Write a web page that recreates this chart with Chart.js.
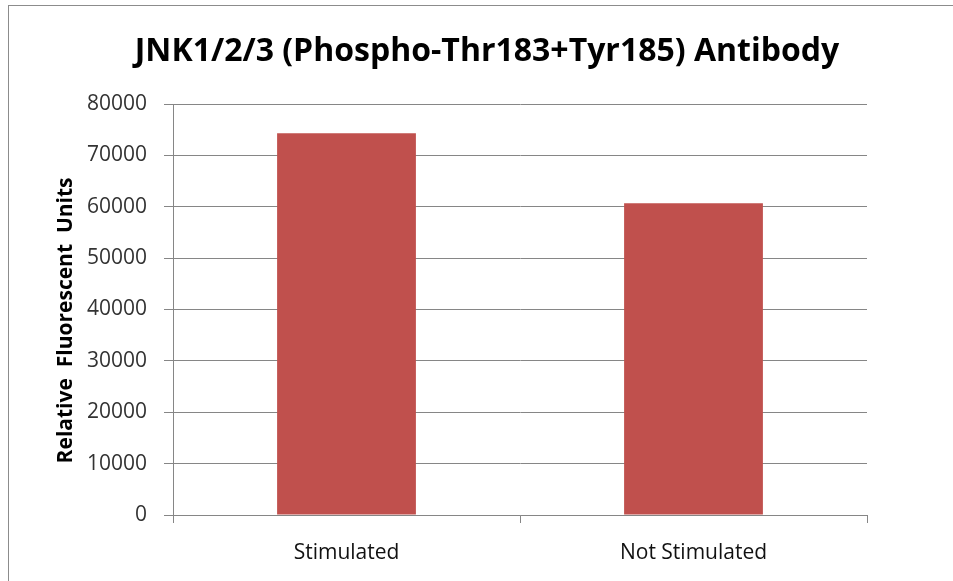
<!DOCTYPE html>
<html>
<head>
<meta charset="utf-8">
<script src="https://cdn.jsdelivr.net/npm/chart.js@4/dist/chart.umd.min.js"></script>
<style>
  html, body { margin: 0; padding: 0; background: #fff; }
  #wrap { position: relative; width: 953px; height: 581px; overflow: hidden; }
  #frame { position: absolute; left: 8px; top: 5px; width: 960px; height: 600px; border: 1px solid #8c8c8c; }
  canvas { position: absolute; left: 0; top: 0; }
</style>
</head>
<body>
<div id="wrap">
  <div id="frame"></div>
  <canvas id="barChart" width="953" height="581"></canvas>
</div>
<script>
// chart values
const categories = ['Stimulated', 'Not Stimulated'];
const fluorescence = [74300, 60700];
const yTicks = [0, 10000, 20000, 30000, 40000, 50000, 60000, 70000, 80000];
const chartTitle = 'JNK1/2/3 (Phospho-Thr183+Tyr185) Antibody';

const gridColor = '#868686';
const fontFamily = '"Open Sans", "DejaVu Sans", sans-serif';

// title is not centred on the plot in the original, so draw it at its own x
const titlePlugin = {
    id: 'offsetTitle',
    afterDraw(chart) {
        const c = chart.ctx;
        c.save();
        c.fillStyle = '#000';
        c.font = 'bold 32px ' + fontFamily;
        c.textAlign = 'center';
        c.textBaseline = 'alphabetic';
        c.fillText(chartTitle, 487, 61);
        c.restore();
    }
};

const ctx = document.getElementById('barChart').getContext('2d');
const barChart = new Chart(ctx, {
    type: 'bar',
    data: {
        labels: categories,
        datasets: [{
            label: 'Relative Fluorescent Units',
            data: fluorescence,
            backgroundColor: '#C0504D',
            borderWidth: 0,
            categoryPercentage: 0.8,
            barPercentage: 0.5
        }]
    },
    options: {
        responsive: false,
        animation: false,
        layout: {
            padding: { left: 40, right: 86, top: 104, bottom: 0 }
        },
        plugins: {
            legend: { display: false },
            tooltip: { enabled: false },
            title: { display: false }
        },
        scales: {
            x: {
                offset: true,
                grid: {
                    display: true,
                    drawOnChartArea: false,
                    drawTicks: true,
                    tickLength: 8,
                    color: gridColor,
                    offset: true
                },
                border: { display: true, color: gridColor, width: 1 },
                ticks: {
                    color: '#111',
                    padding: 17,
                    font: { family: fontFamily, size: 21 }
                },
                afterFit: (scale) => { scale.height = 66; }
            },
            y: {
                min: 0,
                max: 80000,
                afterBuildTicks: (scale) => {
                    scale.ticks = yTicks.map(v => ({ value: v }));
                },
                grid: {
                    color: gridColor,
                    lineWidth: 1,
                    drawTicks: true,
                    tickLength: 9
                },
                border: { display: true, color: gridColor, width: 1 },
                ticks: {
                    color: '#333',
                    padding: 17,
                    font: { family: fontFamily, size: 21 },
                    callback: (v) => String(v)
                },
                title: {
                    display: true,
                    // trailing spaces push the rotated text down a little, as in the original
                    text: 'Relative  Fluorescent  Units    ',
                    color: '#000',
                    font: { family: fontFamily, size: 21, weight: 'bold' },
                    padding: { top: 13, bottom: 0 }
                },
                afterFit: (scale) => { scale.width = 133; }
            }
        }
    },
    plugins: [titlePlugin]
});
</script>
</body>
</html>
